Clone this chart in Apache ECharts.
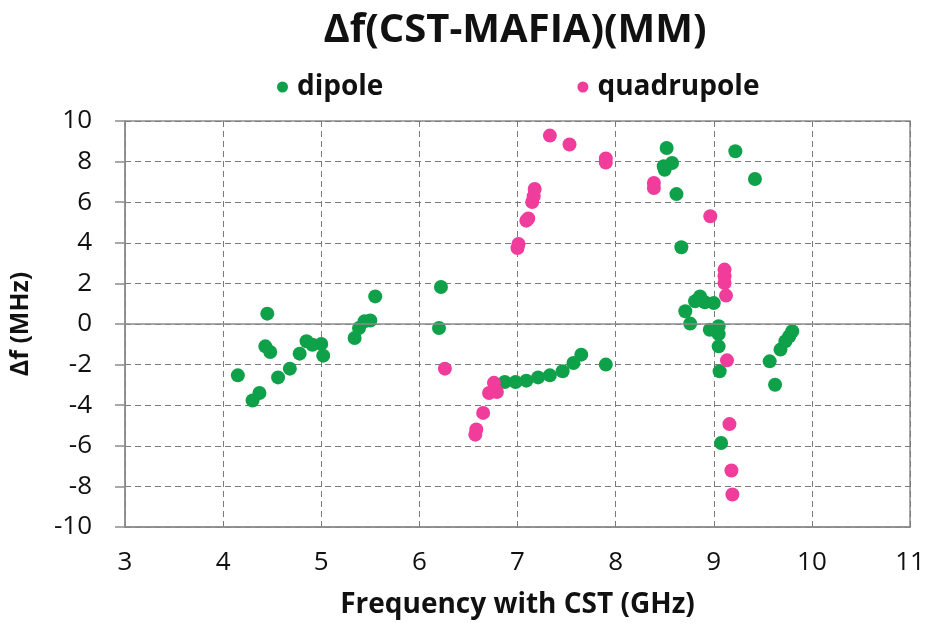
<!DOCTYPE html>
<html><head><meta charset="utf-8">
<script src="https://cdn.jsdelivr.net/npm/echarts@6/dist/echarts.min.js"></script>
<style>html,body{margin:0;padding:0;background:#fff}#c{width:928px;height:628px}</style>
</head><body><div id="c"></div>
<script>
const titleText = 'Δf(CST-MAFIA)(MM)';
const xAxisName = 'Frequency with CST (GHz)';
const yAxisName = 'Δf (MHz)';
const seriesNames = ['dipole', 'quadrupole'];

const dipoleX = [4.15,4.30,4.37,4.45,4.43,4.48,4.56,4.68,4.78,4.85,4.91,5.00,5.02,5.34,5.385,5.44,5.50,5.55,
  6.22,6.20,6.78,6.87,6.98,7.09,7.21,7.33,7.46,7.57,7.65,7.90,
  8.52,8.49,8.575,8.50,8.62,8.67,9.22,9.42,8.71,8.76,8.81,8.86,8.91,9.00,8.96,9.05,9.05,9.05,9.06,9.075,
  9.57,9.625,9.68,9.73,9.77,9.80];
const dipoleY = [-2.53,-3.77,-3.40,0.51,-1.10,-1.38,-2.63,-2.20,-1.46,-0.85,-1.02,-0.98,-1.56,-0.69,-0.20,0.13,0.17,1.36,
  1.82,-0.20,-3.15,-2.86,-2.86,-2.79,-2.63,-2.53,-2.33,-1.92,-1.51,-2.00,
  8.67,7.77,7.93,7.60,6.40,3.78,8.51,7.14,0.63,0.02,1.12,1.36,1.07,1.03,-0.28,-0.11,-0.50,-1.10,-2.33,-5.86,
  -1.84,-2.99,-1.26,-0.85,-0.60,-0.36];

const quadX = [6.26,6.57,6.58,6.65,6.71,6.76,6.79,7.00,7.01,7.09,7.11,7.15,7.165,7.175,7.33,7.53,7.90,7.90,8.39,8.39,
  8.965,9.11,9.11,9.11,9.125,9.135,9.16,9.18,9.19];
const quadY = [-2.20,-5.45,-5.20,-4.38,-3.40,-2.90,-3.35,3.74,3.94,5.09,5.20,6.01,6.29,6.65,9.28,8.84,8.15,7.95,6.95,6.70,
  5.31,2.68,2.35,2.02,1.40,-1.79,-4.93,-7.22,-8.40];

const xTicks = [3,11,1];
const yTicks = [-10,10,2];

const font = '"Open Sans", Lato, sans-serif';
const green = '#0fa14a';
const pink = '#f03c9b';
const ink = '#111';

const chart = echarts.init(document.getElementById('c'), null, {renderer:'canvas'});
chart.setOption({
  backgroundColor:'#fff',
  animation:false,
  title:{text:titleText,left:510,top:6,textAlign:'center',
    textStyle:{fontFamily:font,fontWeight:'bold',fontSize:40,color:ink}},
  legend:{top:68,left:272,itemGap:194,itemWidth:11,itemHeight:11,icon:'circle',
    textStyle:{fontFamily:font,fontWeight:'bold',fontSize:28,color:ink,padding:[0,0,0,4]},
    data:seriesNames},
  grid:{left:124,right:18,top:121,bottom:101,show:true,borderColor:'#8c8c8c',borderWidth:1.5,containLabel:false},
  xAxis:{type:'value',min:xTicks[0],max:xTicks[1],interval:xTicks[2],
    name:xAxisName,nameLocation:'middle',nameGap:64,
    nameTextStyle:{fontFamily:font,fontWeight:'bold',fontSize:28,color:ink},
    axisLine:{show:true,onZero:false,lineStyle:{color:'#8c8c8c',width:1.5}},
    axisTick:{show:false},
    axisLabel:{fontFamily:font,fontSize:26,color:ink,margin:23},
    splitLine:{show:true,lineStyle:{type:[6,4],color:'#7a7a7a',width:1}}},
  yAxis:{type:'value',min:yTicks[0],max:yTicks[1],interval:yTicks[2],
    name:yAxisName,nameLocation:'middle',nameGap:92,nameRotate:90,
    nameTextStyle:{fontFamily:font,fontWeight:'bold',fontSize:25,color:ink},
    axisLine:{show:true,lineStyle:{color:'#8c8c8c',width:1.5}},
    axisTick:{show:true,length:10,lineStyle:{color:'#8c8c8c',width:1.5}},
    axisLabel:{fontFamily:font,fontSize:26,color:ink,margin:33},
    splitLine:{show:true,lineStyle:{type:[6,4],color:'#7a7a7a',width:1}}},
  series:[
    {name:seriesNames[0],type:'scatter',symbolSize:14,itemStyle:{color:green,opacity:1},
     data:dipoleX.map((x,i)=>[x,dipoleY[i]]),
     markLine:{silent:true,symbol:'none',label:{show:false},lineStyle:{type:'solid',color:'#8c8c8c',width:1.5},data:[{yAxis:0}]},
     z:3},
    {name:seriesNames[1],type:'scatter',symbolSize:14,itemStyle:{color:pink,opacity:1},
     data:quadX.map((x,i)=>[x,quadY[i]]),z:4}
  ]
});
</script></body></html>
